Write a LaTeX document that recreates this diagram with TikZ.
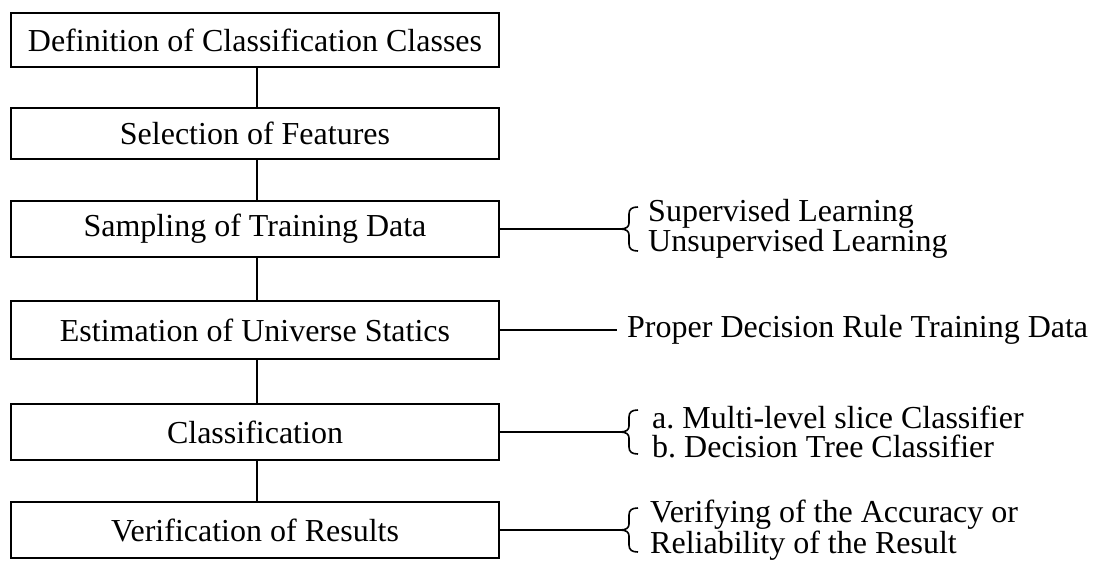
\documentclass[tikz,border=0pt]{standalone}
\usepackage{fontspec}
\setmainfont{Liberation Serif}
\frenchspacing
\tikzset{
  lbrace/.pic={\draw[line width=1.6pt] (18,-22) .. controls (12,-22) and (9,-20) .. (9,-15) -- (9,-6) .. controls (9,-2) and (6,0) .. (0,0) .. controls (6,0) and (9,2) .. (9,6) -- (9,15) .. controls (9,20) and (12,22) .. (18,22);}
}
\begin{document}
\begin{tikzpicture}[x=1pt,y=-1pt,
  stepbox/.style={draw,line width=1.8pt,minimum width=488pt,inner sep=0pt,font=\fontsize{32}{30}\selectfont},
  link/.style={line width=1.8pt},
  side/.style={anchor=west,align=left,inner sep=0pt,font=\fontsize{32}{29}\selectfont}]
\useasboundingbox (0,0) rectangle (1095,563);
\node[stepbox,minimum height=54pt] (b1) at (255,40) {Definition of Classification Classes};
\node[stepbox,minimum height=51pt] (b2) at (255,133.5) {Selection of Features};
\node[stepbox,minimum height=56pt] (b3) at (255,229) {Sampling of Training Data};
\node[stepbox,minimum height=58pt] (b4) at (255,330) {Estimation of Universe Statics};
\node[stepbox,minimum height=56pt] (b5) at (255,432) {Classification};
\node[stepbox,minimum height=56pt] (b6) at (255,530) {Verification of Results};
\draw[link] ([xshift=2pt]b1.south) -- ([xshift=2pt]b2.north);
\draw[link] ([xshift=2pt]b2.south) -- ([xshift=2pt]b3.north);
\draw[link] ([xshift=2pt]b3.south) -- ([xshift=2pt]b4.north);
\draw[link] ([xshift=2pt]b4.south) -- ([xshift=2pt]b5.north);
\draw[link] ([xshift=2pt]b5.south) -- ([xshift=2pt]b6.north);
\node[side] (t3) at (648,229) {Supervised Learning\\Unsupervised Learning};
\node[side] (t4) at (627,330) {Proper Decision Rule Training Data};
\node[side] (t5) at (652,432) {a. Multi-level slice Classifier\\b. Decision Tree Classifier};
\node[side] (t6) at (650,530) {Verifying of the Accuracy or\\Reliability of the Result};
\coordinate (k3) at (620,229);
\coordinate (k4) at (617,330);
\coordinate (k5) at (620,432);
\coordinate (k6) at (620,530);
\draw[link] (b3.east) -- (k3);
\draw[link] (b4.east) -- (k4);
\draw[link] (b5.east) -- (k5);
\draw[link] (b6.east) -- (k6);
\pic at (k3) {lbrace};
\pic at (k5) {lbrace};
\pic at (k6) {lbrace};
\end{tikzpicture}
\end{document}
